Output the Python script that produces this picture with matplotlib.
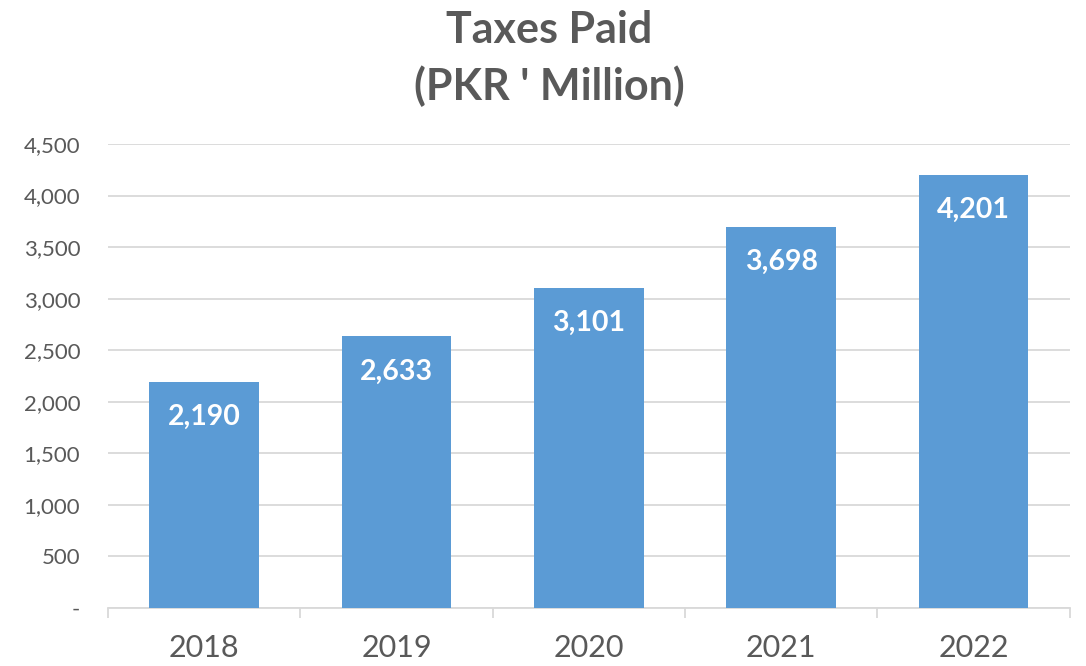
import matplotlib
matplotlib.use("Agg")
import matplotlib.pyplot as plt
from matplotlib.ticker import FuncFormatter, FixedLocator

years = ["2018", "2019", "2020", "2021", "2022"]
taxes = [2190, 2633, 3101, 3698, 4201]
yticks = [0, 500, 1000, 1500, 2000, 2500, 3000, 3500, 4000, 4500]

plt.rcParams['font.family'] = ['Lato', 'DejaVu Sans']
grey = "#595959"
bar_color = "#5B9BD5"
line_grey = "#D9D9D9"

fig = plt.figure(figsize=(10.86, 6.66), dpi=100)
ax = fig.add_axes([0.0994, 0.0871, 0.8856, 0.6967])

x = list(range(len(years)))
bars = ax.bar(x, taxes, width=0.57, color=bar_color, zorder=3)

ax.set_xlim(-0.5, len(years) - 0.5)
ax.set_ylim(0, 4500)
ax.yaxis.set_major_locator(FixedLocator(yticks))
ax.yaxis.set_major_formatter(FuncFormatter(lambda v, p: "-" if v == 0 else f"{int(v):,}"))
ax.grid(axis='y', color=line_grey, linewidth=1.3, zorder=0)

for s in ['top', 'right', 'left']:
    ax.spines[s].set_visible(False)
ax.spines['bottom'].set_color(line_grey)
ax.spines['bottom'].set_linewidth(1.3)

ax.set_xticks(x)
ax.set_xticklabels(years)
ax.tick_params(axis='x', length=0, labelsize=22, labelcolor=grey, pad=19)
ax.tick_params(axis='y', length=0, labelsize=16, labelcolor=grey, pad=20)
ax.set_xticks([i - 0.5 for i in range(len(years) + 1)], minor=True)
ax.tick_params(axis='x', which='minor', length=7.2, width=1.3, color=line_grey)

for xi, v in zip(x, taxes):
    ax.annotate(f"{v:,}", (xi, v), xytext=(0, -35), textcoords='offset pixels',
                ha='center', va='center', color='white', fontsize=20.5,
                fontweight='bold', zorder=4)

fig.text(0.506, 0.985, "Taxes Paid\n(PKR ' Million)", ha='center', va='top',
         fontsize=31, fontweight='bold', color=grey, linespacing=1.45)

fig.savefig("out.png", dpi=100)
